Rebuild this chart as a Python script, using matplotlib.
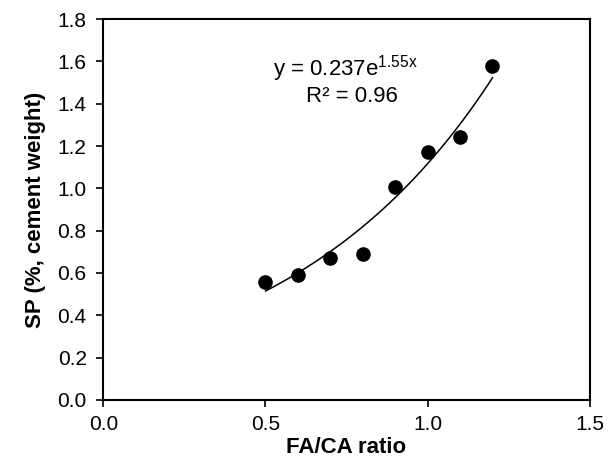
import numpy as np
import matplotlib
matplotlib.use('Agg')
import matplotlib.pyplot as plt

# data
fa_ca = [0.5, 0.6, 0.7, 0.8, 0.9, 1.0, 1.1, 1.2]
sp = [0.556, 0.590, 0.670, 0.690, 1.005, 1.170, 1.242, 1.578]

# exponential trend reported on the chart: y = a * exp(b x)
fit_a = 0.237
fit_b = 1.55
r2 = 0.96

x_ticks = [0.0, 0.5, 1.0, 1.5]
y_ticks = [0.0, 0.2, 0.4, 0.6, 0.8, 1.0, 1.2, 1.4, 1.6, 1.8]

plt.rcParams['font.family'] = ['Liberation Sans', 'DejaVu Sans']
plt.rcParams['mathtext.fontset'] = 'custom'
plt.rcParams['mathtext.rm'] = 'Liberation Sans'
plt.rcParams['mathtext.it'] = 'Liberation Sans'

fig = plt.figure(figsize=(6.08, 4.65), dpi=100)
ax = fig.add_axes([0.170, 0.140, 0.800, 0.819])

# fitted curve over the data range
xf = np.linspace(min(fa_ca), max(fa_ca), 100)
ax.plot(xf, fit_a * np.exp(fit_b * xf), color='black', lw=1.1)

ax.plot(fa_ca, sp, 'o', color='black', ms=9.5, zorder=3)

ax.text(0.745, 1.568, r'y = 0.237e$^{\mathregular{1.55x}}$', ha='center', va='center', fontsize=16)
ax.text(0.767, 1.432, f'R\u00b2 = {r2}', ha='center', va='center', fontsize=16)

ax.set_xlim(0, 1.5)
ax.set_ylim(0, 1.8)
ax.set_xticks(x_ticks)
ax.set_yticks(y_ticks)
ax.set_xticklabels([f'{v:.1f}' for v in x_ticks])
ax.set_yticklabels([f'{v:.1f}' for v in y_ticks])
ax.tick_params(direction='out', length=5, width=1.2, labelsize=15, colors='black')
ax.tick_params(axis='y', pad=7)
ax.tick_params(axis='x', pad=6)

for s in ax.spines.values():
    s.set_linewidth(1.5)

ax.set_xlabel('FA/CA ratio', fontsize=16, fontweight='bold', labelpad=2)
ax.set_ylabel('SP (%, cement weight)', fontsize=16, fontweight='bold', labelpad=8)

fig.savefig('out.png', dpi=100)
